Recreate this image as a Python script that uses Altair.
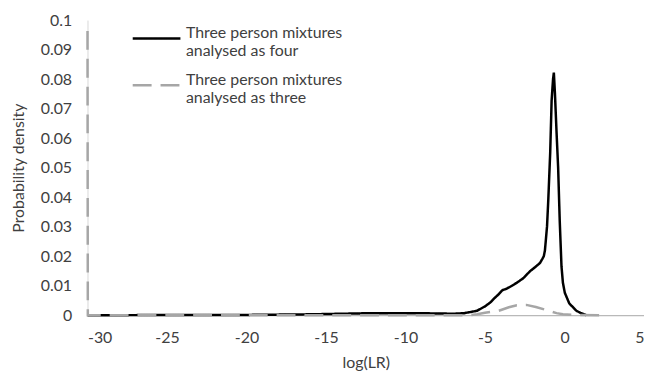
import altair as alt
import pandas as pd

# Series: three person mixtures analysed as four (solid black)
four_x = [-30, -20, -16, -14, -12, -10, -8, -7, -6.3, -6, -5.5, -5, -4.67, -4.4, -4.14, -3.9,
          -3.63, -3.3, -3.0, -2.6, -2.17, -1.8, -1.54, -1.4, -1.3, -1.23, -1.1, -1.02, -0.9,
          -0.81, -0.72, -0.67, -0.6, -0.5, -0.4, -0.3, -0.19, -0.1, 0.02, 0.3, 0.75, 1.0, 1.37]
four_y = [0, 0.0001, 0.0003, 0.0005, 0.0007, 0.0007, 0.0006, 0.0005, 0.0007, 0.0010, 0.0015,
          0.0030, 0.0043, 0.0058, 0.0071, 0.0085, 0.0090, 0.0100, 0.0110, 0.0125, 0.0149, 0.0165,
          0.0177, 0.0190, 0.0200, 0.0220, 0.0300, 0.0390, 0.0550, 0.0727, 0.0800, 0.0822, 0.0750,
          0.0620, 0.0500, 0.0320, 0.0166, 0.0110, 0.0076, 0.0040, 0.0015, 0.0008, 0.0]

# Series: three person mixtures analysed as three (dashed grey)
three_x = [-30, -29.98, -6, -5.5, -5, -4.14, -3.5, -3.0, -2.4, -1.8, -1.1, -0.5, -0.1, 0.5, 2.6]
three_y = [0.0963, 0, 0, 0.0003, 0.0008, 0.0015, 0.0027, 0.0034, 0.0035, 0.0028, 0.0017,
           0.0007, 0.0003, 0.0001, 0]

series_names = ["Three person mixtures|analysed as four", "Three person mixtures|analysed as three"]

x_ticks = [-30, -25, -20, -15, -10, -5, 0, 5]
y_ticks = [0, 0.01, 0.02, 0.03, 0.04, 0.05, 0.06, 0.07, 0.08, 0.09, 0.1]

rows = []
for i, (x, y) in enumerate(zip(four_x, four_y)):
    rows.append({"series": series_names[0], "x": x, "y": y, "order": i})
for i, (x, y) in enumerate(zip(three_x, three_y)):
    rows.append({"series": series_names[1], "x": x, "y": y, "order": i})
df = pd.DataFrame(rows)

FONT = "Lato"
TXT = "#404040"

chart = alt.Chart(df).mark_line(strokeWidth=2.5).encode(
    x=alt.X("x:Q", scale=alt.Scale(domain=[-30, 5], nice=False),
            axis=alt.Axis(values=x_ticks, title="log(LR)", grid=False, ticks=False,
                          domainColor="#a6a6a6", domainWidth=1, labelPadding=14,
                          labelFontSize=16, titleFontSize=16, titleFontWeight="normal",
                          titlePadding=10, labelColor=TXT, titleColor=TXT,
                          labelExpr="'' + datum.value")),
    y=alt.Y("y:Q", scale=alt.Scale(domain=[0, 0.1], nice=False),
            axis=alt.Axis(values=y_ticks, title="Probability density", grid=False, ticks=False,
                          domainColor="#d9d9d9", labelPadding=16, format=".2~f",
                          labelFontSize=16, titleFontSize=16, titleFontWeight="normal",
                          titlePadding=14, labelColor=TXT, titleColor=TXT)),
    color=alt.Color("series:N", scale=alt.Scale(domain=series_names, range=["#000000", "#a6a6a6"]),
                    legend=alt.Legend(title=None, orient="none", legendX=44, legendY=-7,
                                      symbolType="stroke", symbolSize=2304, symbolStrokeWidth=2.5,
                                      labelFontSize=16, labelColor=TXT, labelFont=FONT,
                                      labelExpr="split(datum.label, '|')", labelBaseline="alphabetic",
                                      labelOffset=4, rowPadding=0, labelLimit=400,
                                      symbolOffset=0)),
    strokeDash=alt.StrokeDash("series:N",
                              scale=alt.Scale(domain=series_names, range=[[1, 0], [19, 9]]),
                              legend=None),
    order=alt.Order("order:Q"),
).properties(
    width=560, height=297,
    padding={"left": 80, "top": 11, "right": 0, "bottom": 55},
    autosize=alt.AutoSizeParams(type="none"),
).configure(font=FONT).configure_view(stroke=None)

chart.save("out.html", embed_options={"renderer": "svg", "actions": False})
